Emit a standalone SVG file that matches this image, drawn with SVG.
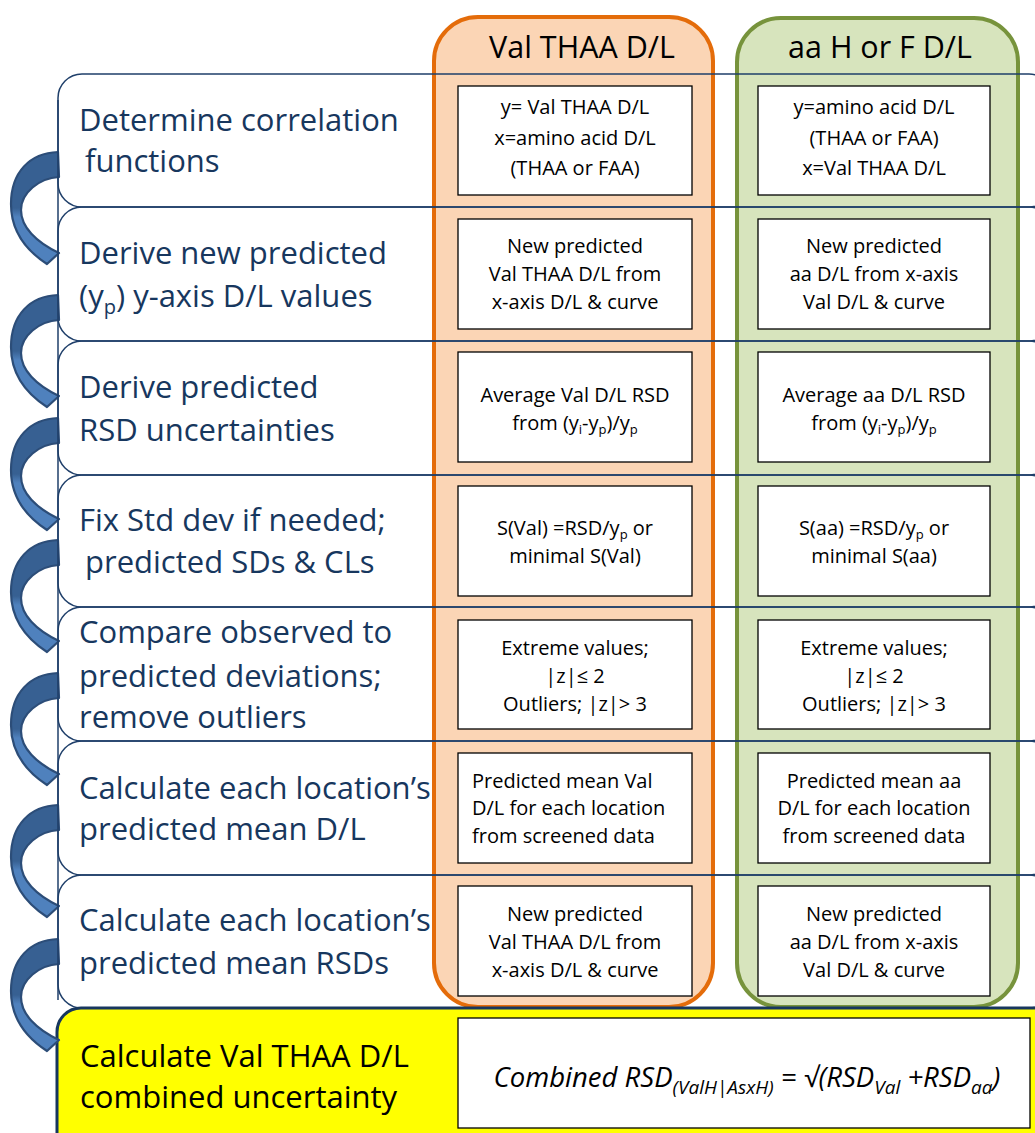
<svg xmlns="http://www.w3.org/2000/svg" width="1035" height="1133" viewBox="0 0 1035 1133">
  <defs>
    <style>
      .row{fill:#ffffff}
      .rowline{fill:none;stroke:#1F3F6A;stroke-width:1.5}
      .lbl{font-family:"Open Sans","Liberation Sans",sans-serif;font-size:31px;fill:#17375E}
      .lblk{font-family:"Open Sans","Liberation Sans",sans-serif;font-size:31px;fill:#000000}
      .hdr{font-family:"Open Sans","Liberation Sans",sans-serif;font-size:30.5px;fill:#000000;text-anchor:middle}
      .box{fill:#ffffff;stroke:#000000;stroke-width:1.3}
      .bt{font-family:"Open Sans","Liberation Sans",sans-serif;font-size:20px;fill:#000000;text-anchor:middle}
      .btl{font-family:"Open Sans","Liberation Sans",sans-serif;font-size:20px;fill:#000000}
      .fx{font-family:"Open Sans","Liberation Sans",sans-serif;font-size:27.5px;font-style:italic;fill:#000000;text-anchor:middle}
      .arrow{fill:url(#arrowFill);stroke:#2C4D78;stroke-width:2.2;stroke-linejoin:round}
    </style>
    <linearGradient id="arrowFill" x1="0" y1="0" x2="0" y2="1">
      <stop offset="0" stop-color="#376092"/>
      <stop offset="0.5" stop-color="#376092"/>
      <stop offset="0.58" stop-color="#4F81BD"/>
      <stop offset="1" stop-color="#4F81BD"/>
    </linearGradient>
    <!-- curved step arrow, drawn from its top end -->
    <path id="stepArrow" d="M58,0 C30,1 11,20 11,52 C11,80 27,99 47,112 L59,101 C36,90 21,75 21,58 C21,41 39,26 59,25 Z"/>
  </defs>

  <!-- row backgrounds -->
  <g id="row-fills">
    <rect class="row" x="58" y="74" width="995" height="133" rx="24"/>
    <rect class="row" x="58" y="207" width="995" height="134" rx="24"/>
    <rect class="row" x="58" y="341" width="995" height="134" rx="24"/>
    <rect class="row" x="58" y="475" width="995" height="132" rx="24"/>
    <rect class="row" x="58" y="607" width="995" height="134" rx="24"/>
    <rect class="row" x="58" y="741" width="995" height="134" rx="24"/>
    <rect class="row" x="58" y="875" width="995" height="133" rx="24"/>
  </g>

  <!-- column panels -->
  <g id="col-val">
    <rect x="434" y="17" width="279" height="990" rx="44" fill="#FBD5B5" stroke="#E46C0A" stroke-width="4"/>
    <text class="hdr" x="582" y="58">Val THAA D/L</text>
  </g>
  <g id="col-aa">
    <rect x="737" y="18" width="281" height="989" rx="44" fill="#D7E4BD" stroke="#77933C" stroke-width="4"/>
    <text class="hdr" x="880" y="58">aa H or F D/L</text>
  </g>

  <!-- row outlines -->
  <g id="row-outlines">
    <rect class="rowline" x="58" y="74" width="995" height="133" rx="24"/>
    <rect class="rowline" x="58" y="207" width="995" height="134" rx="24"/>
    <rect class="rowline" x="58" y="341" width="995" height="134" rx="24"/>
    <rect class="rowline" x="58" y="475" width="995" height="132" rx="24"/>
    <rect class="rowline" x="58" y="607" width="995" height="134" rx="24"/>
    <rect class="rowline" x="58" y="741" width="995" height="134" rx="24"/>
    <rect class="rowline" x="58" y="875" width="995" height="133" rx="24"/>
  </g>

  <!-- step 1 -->
  <g id="step1">
    <text class="lbl" x="79" y="131">Determine correlation</text>
    <text class="lbl" x="85" y="172">functions</text>
    <rect class="box" x="458" y="86" width="234" height="109"/>
    <text class="bt" x="575" y="114">y= Val THAA D/L</text>
    <text class="bt" x="575" y="145">x=amino acid D/L</text>
    <text class="bt" x="575" y="175">(THAA or FAA)</text>
    <rect class="box" x="758" y="86" width="232" height="109"/>
    <text class="bt" x="874" y="114">y=amino acid D/L</text>
    <text class="bt" x="874" y="145">(THAA or FAA)</text>
    <text class="bt" x="874" y="175">x=Val THAA D/L</text>
  </g>

  <!-- step 2 -->
  <g id="step2">
    <text class="lbl" x="79" y="264">Derive new predicted</text>
    <text class="lbl" x="79" y="307">(y<tspan font-size="20" dy="7">p</tspan><tspan dy="-7">) y-axis D/L values</tspan></text>
    <rect class="box" x="458" y="219" width="234" height="110"/>
    <text class="bt" x="575" y="253">New predicted</text>
    <text class="bt" x="575" y="281">Val THAA D/L from</text>
    <text class="bt" x="575" y="309">x-axis D/L &amp; curve</text>
    <rect class="box" x="758" y="219" width="232" height="110"/>
    <text class="bt" x="874" y="253">New predicted</text>
    <text class="bt" x="874" y="281">aa D/L from x-axis</text>
    <text class="bt" x="874" y="309">Val D/L &amp; curve</text>
  </g>

  <!-- step 3 -->
  <g id="step3">
    <text class="lbl" x="79" y="398">Derive predicted</text>
    <text class="lbl" x="79" y="441">RSD uncertainties</text>
    <rect class="box" x="458" y="352" width="234" height="110"/>
    <text class="bt" x="575" y="402">Average Val D/L RSD</text>
    <text class="bt" x="575" y="430">from (y<tspan font-size="13" dy="4">i</tspan><tspan dy="-4">-y</tspan><tspan font-size="13" dy="4">p</tspan><tspan dy="-4">)/y</tspan><tspan font-size="13" dy="4">p</tspan></text>
    <rect class="box" x="758" y="352" width="232" height="110"/>
    <text class="bt" x="874" y="402">Average aa D/L RSD</text>
    <text class="bt" x="874" y="430">from (y<tspan font-size="13" dy="4">i</tspan><tspan dy="-4">-y</tspan><tspan font-size="13" dy="4">p</tspan><tspan dy="-4">)/y</tspan><tspan font-size="13" dy="4">p</tspan></text>
  </g>

  <!-- step 4 -->
  <g id="step4">
    <text class="lbl" x="79" y="531">Fix Std dev if needed;</text>
    <text class="lbl" x="85" y="573">predicted SDs &amp; CLs</text>
    <rect class="box" x="458" y="486" width="234" height="110"/>
    <text class="bt" x="575" y="535">S(Val) =RSD/y<tspan font-size="13" dy="4">p</tspan><tspan dy="-4"> or</tspan></text>
    <text class="bt" x="575" y="563">minimal S(Val)</text>
    <rect class="box" x="758" y="486" width="232" height="110"/>
    <text class="bt" x="874" y="535">S(aa) =RSD/y<tspan font-size="13" dy="4">p</tspan><tspan dy="-4"> or</tspan></text>
    <text class="bt" x="874" y="563">minimal S(aa)</text>
  </g>

  <!-- step 5 -->
  <g id="step5">
    <text class="lbl" x="79" y="643">Compare observed to</text>
    <text class="lbl" x="79" y="687">predicted deviations;</text>
    <text class="lbl" x="79" y="728">remove outliers</text>
    <rect class="box" x="458" y="620" width="234" height="109"/>
    <text class="bt" x="575" y="655">Extreme values;</text>
    <text class="bt" x="575" y="683">|z|≤ 2</text>
    <text class="bt" x="575" y="711">Outliers; |z|&gt; 3</text>
    <rect class="box" x="758" y="620" width="232" height="109"/>
    <text class="bt" x="874" y="655">Extreme values;</text>
    <text class="bt" x="874" y="683">|z|≤ 2</text>
    <text class="bt" x="874" y="711">Outliers; |z|&gt; 3</text>
  </g>

  <!-- step 6 -->
  <g id="step6">
    <text class="lbl" x="79" y="799">Calculate each location’s</text>
    <text class="lbl" x="79" y="840">predicted mean D/L</text>
    <rect class="box" x="458" y="753" width="234" height="110"/>
    <text class="btl" x="472" y="788">Predicted mean Val</text>
    <text class="btl" x="472" y="815">D/L for each location</text>
    <text class="btl" x="472" y="843">from screened data</text>
    <rect class="box" x="758" y="753" width="232" height="110"/>
    <text class="bt" x="874" y="788">Predicted mean aa</text>
    <text class="bt" x="874" y="815">D/L for each location</text>
    <text class="bt" x="874" y="843">from screened data</text>
  </g>

  <!-- step 7 -->
  <g id="step7">
    <text class="lbl" x="79" y="931">Calculate each location’s</text>
    <text class="lbl" x="79" y="974">predicted mean RSDs</text>
    <rect class="box" x="458" y="886" width="234" height="110"/>
    <text class="bt" x="575" y="921">New predicted</text>
    <text class="bt" x="575" y="949">Val THAA D/L from</text>
    <text class="bt" x="575" y="977">x-axis D/L &amp; curve</text>
    <rect class="box" x="758" y="886" width="232" height="110"/>
    <text class="bt" x="874" y="921">New predicted</text>
    <text class="bt" x="874" y="949">aa D/L from x-axis</text>
    <text class="bt" x="874" y="977">Val D/L &amp; curve</text>
  </g>

  <!-- step 8: combined result -->
  <g id="step8">
    <rect x="57" y="1008" width="1000" height="160" rx="24" fill="#FFFF00" stroke="#17375E" stroke-width="3"/>
    <text class="lblk" x="80" y="1067">Calculate Val THAA D/L</text>
    <text class="lblk" x="80" y="1108">combined uncertainty</text>
    <rect class="box" x="458" y="1018" width="572" height="110"/>
    <text class="fx" x="747" y="1087">Combined RSD<tspan font-size="19" dy="7">(ValH|AsxH)</tspan><tspan dy="-7"> = √(RSD</tspan><tspan font-size="19" dy="7">Val</tspan><tspan dy="-7"> +RSD</tspan><tspan font-size="19" dy="7">aa</tspan><tspan dy="-7">)</tspan></text>
  </g>

  <!-- connectors: curved step arrows on the left -->
  <g id="connectors">
    <use href="#stepArrow" class="arrow" transform="translate(0,152)"/>
    <use href="#stepArrow" class="arrow" transform="translate(0,295)"/>
    <use href="#stepArrow" class="arrow" transform="translate(0,418)"/>
    <use href="#stepArrow" class="arrow" transform="translate(0,540)"/>
    <use href="#stepArrow" class="arrow" transform="translate(0,673)"/>
    <use href="#stepArrow" class="arrow" transform="translate(0,805)"/>
    <use href="#stepArrow" class="arrow" transform="translate(0,939)"/>
    <line x1="58" y1="100" x2="58" y2="1000" stroke="#1F3F6A" stroke-width="1.5"/>
  </g>
</svg>
